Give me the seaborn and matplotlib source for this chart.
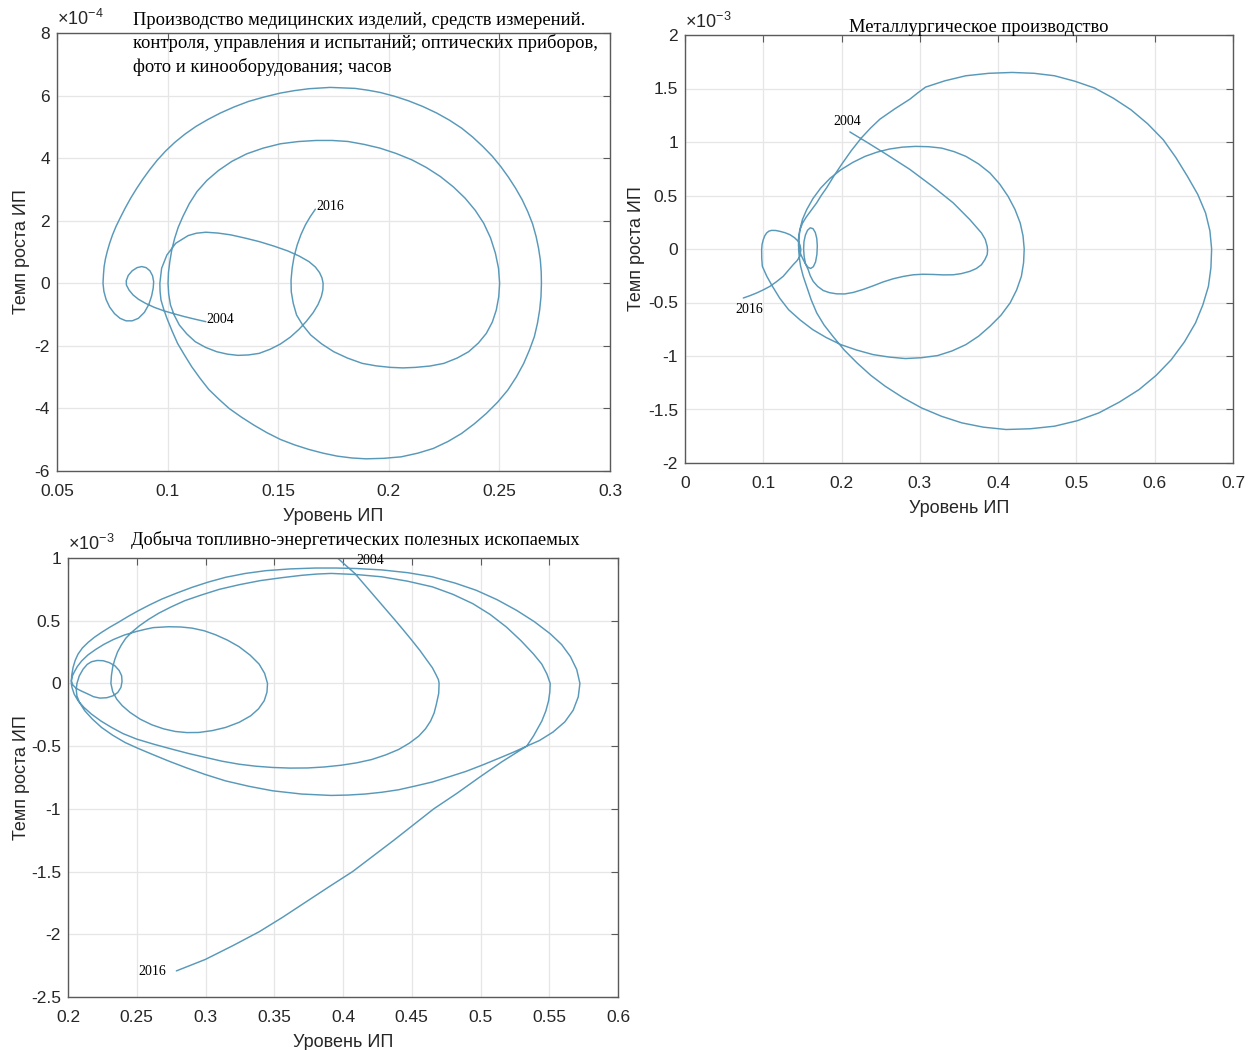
import matplotlib
matplotlib.use("Agg")
import matplotlib.pyplot as plt
import numpy as np
import pandas as pd
import seaborn as sns

# ---------------- data (in trajectory order) ----------------
# Panel 1: x = Уровень ИП, y = Темп роста ИП in units of 1e-4
med_start_loop = [(0.1173, -1.227), (0.1125, -1.15), (0.1077, -1.067), (0.1029, -0.975), (0.0981, -0.875),
                  (0.0940, -0.77), (0.0900, -0.640), (0.0868, -0.51), (0.0844, -0.373), (0.0826, -0.22),
                  (0.0814, -0.06), (0.0813, 0.08), (0.0822, 0.25), (0.0840, 0.40), (0.0862, 0.50),
                  (0.0883, 0.535), (0.0903, 0.50), (0.0920, 0.40), (0.0932, 0.24), (0.0937, 0.05),
                  (0.0935, -0.15), (0.0928, -0.40), (0.0915, -0.68), (0.0895, -0.93), (0.0868, -1.12),
                  (0.0840, -1.20), (0.0812, -1.20), (0.0785, -1.12), (0.0760, -0.97), (0.0738, -0.76),
                  (0.0722, -0.52), (0.0712, -0.26), (0.0708, 0.0)]
med_outer = [(0.0710, 0.27), (0.0713, 0.533), (0.0719, 0.78), (0.0727, 1.013), (0.0738, 1.28), (0.0751, 1.547),
             (0.0767, 1.82), (0.0785, 2.08), (0.0808, 2.40), (0.0833, 2.72), (0.0860, 3.03), (0.0888, 3.328),
             (0.0919, 3.63), (0.0952, 3.925), (0.0990, 4.22), (0.1032, 4.501), (0.1078, 4.765), (0.1128, 5.013),
             (0.1182, 5.235), (0.1238, 5.44), (0.1300, 5.635), (0.1366, 5.813), (0.1437, 5.955), (0.1510, 6.08),
             (0.1573, 6.158), (0.1639, 6.219), (0.1735, 6.261), (0.1848, 6.229), (0.1905, 6.172), (0.1960, 6.101),
             (0.2025, 5.98), (0.2088, 5.835), (0.2154, 5.65), (0.2217, 5.44), (0.2275, 5.21), (0.2329, 4.96),
             (0.2379, 4.675), (0.2425, 4.373), (0.2468, 4.06), (0.2506, 3.733), (0.2541, 3.39), (0.2573, 3.04),
             (0.2603, 2.67), (0.2628, 2.293), (0.2650, 1.9), (0.2666, 1.493), (0.2677, 1.12), (0.2685, 0.747),
             (0.2689, 0.37), (0.2690, 0.0), (0.2688, -0.43), (0.2682, -0.853), (0.2672, -1.28), (0.2658, -1.707),
             (0.2636, -2.13), (0.2610, -2.56), (0.2577, -2.99), (0.2538, -3.413), (0.2492, -3.8), (0.2441, -4.16),
             (0.2387, -4.49), (0.2329, -4.8), (0.2268, -5.055), (0.2201, -5.28), (0.2131, -5.43), (0.2056, -5.547),
             (0.1977, -5.595), (0.1896, -5.611), (0.1832, -5.583), (0.1767, -5.525), (0.1703, -5.43),
             (0.1639, -5.312), (0.1574, -5.165), (0.1510, -4.992), (0.1449, -4.775), (0.1390, -4.533),
             (0.1333, -4.275), (0.1278, -4.0), (0.1231, -3.70), (0.1186, -3.392), (0.1146, -3.03),
             (0.1109, -2.667), (0.1076, -2.29), (0.1045, -1.92), (0.1020, -1.52), (0.0997, -1.12),
             (0.0982, -0.82), (0.0970, -0.533), (0.0966, -0.26), (0.0965, 0.0)]
med_mid_loop = [(0.0973, 0.48), (0.0997, 0.907), (0.1037, 1.28), (0.1093, 1.525), (0.1130, 1.60), (0.1173, 1.632),
                (0.1228, 1.605), (0.1286, 1.547), (0.1350, 1.445), (0.1414, 1.333), (0.1480, 1.19), (0.1543, 1.035),
                (0.1595, 0.87), (0.1639, 0.693), (0.1668, 0.52), (0.1687, 0.341), (0.1698, 0.17), (0.1703, 0.0),
                (0.1702, -0.21), (0.1695, -0.427), (0.1680, -0.68), (0.1658, -0.939), (0.1628, -1.21),
                (0.1594, -1.472), (0.1555, -1.72), (0.1510, -1.941), (0.1463, -2.11), (0.1414, -2.24),
                (0.1366, -2.29), (0.1318, -2.304), (0.1270, -2.265), (0.1222, -2.187), (0.1172, -2.05),
                (0.1125, -1.867), (0.1087, -1.62), (0.1053, -1.333), (0.1030, -1.02), (0.1013, -0.693),
                (0.1005, -0.35), (0.1002, 0.0)]
med_last_loop = [(0.1004, 0.35), (0.1010, 0.693), (0.1019, 1.07), (0.1032, 1.44), (0.1048, 1.79), (0.1069, 2.133),
                 (0.1098, 2.545), (0.1133, 2.933), (0.1178, 3.29), (0.1230, 3.605), (0.1290, 3.895), (0.1358, 4.139),
                 (0.1432, 4.32), (0.1510, 4.459), (0.1590, 4.53), (0.1671, 4.565), (0.1744, 4.565), (0.1815, 4.533),
                 (0.1888, 4.44), (0.1960, 4.32), (0.2033, 4.15), (0.2104, 3.947), (0.2170, 3.70), (0.2233, 3.413),
                 (0.2292, 3.08), (0.2345, 2.72), (0.2391, 2.33), (0.2429, 1.92), (0.2460, 1.45), (0.2482, 0.96),
                 (0.2496, 0.48), (0.2501, 0.0), (0.2497, -0.43), (0.2486, -0.853), (0.2468, -1.24), (0.2441, -1.6),
                 (0.2405, -1.91), (0.2361, -2.187), (0.2309, -2.39), (0.2249, -2.56), (0.2186, -2.645),
                 (0.2120, -2.688), (0.2064, -2.705), (0.2008, -2.688), (0.1943, -2.64), (0.1880, -2.56),
                 (0.1813, -2.39), (0.1751, -2.187), (0.1696, -1.935), (0.1647, -1.653), (0.1611, -1.34),
                 (0.1583, -1.013), (0.1568, -0.64), (0.1559, -0.267), (0.1558, 0.1), (0.1563, 0.48),
                 (0.1572, 0.86), (0.1586, 1.227), (0.1603, 1.56), (0.1623, 1.867), (0.1645, 2.13), (0.1668, 2.368)]

# Panel 2: y in units of 1e-3
met_kidney = [(0.2106, 1.094), (0.2319, 1.0), (0.2574, 0.884), (0.2872, 0.744), (0.3170, 0.581), (0.3426, 0.431),
              (0.3638, 0.275), (0.3787, 0.15), (0.3835, 0.09), (0.3860, 0.025), (0.3865, -0.015), (0.3860, -0.053),
              (0.3830, -0.10), (0.3787, -0.147), (0.3720, -0.183), (0.3638, -0.209), (0.3530, -0.230),
              (0.3426, -0.241), (0.3300, -0.242), (0.3170, -0.238), (0.3040, -0.236), (0.2915, -0.241),
              (0.2790, -0.256), (0.2660, -0.278), (0.2530, -0.308), (0.2404, -0.344), (0.2275, -0.378),
              (0.2149, -0.406), (0.2040, -0.420), (0.1936, -0.419), (0.1845, -0.408), (0.1766, -0.388),
              (0.1695, -0.35), (0.1638, -0.303), (0.1600, -0.25), (0.1574, -0.194)]
met_small = [(0.1540, -0.14), (0.1522, -0.07), (0.1515, 0.0), (0.1520, 0.07), (0.1538, 0.13), (0.1565, 0.175),
             (0.1600, 0.198), (0.1635, 0.19), (0.1664, 0.155), (0.1683, 0.10), (0.1690, 0.03), (0.1685, -0.05),
             (0.1668, -0.12), (0.1640, -0.165), (0.1605, -0.182), (0.1570, -0.17), (0.1535, -0.135),
             (0.1500, -0.085), (0.1468, -0.03), (0.1450, 0.03), (0.1450, 0.10)]
met_outer = [(0.1465, 0.17), (0.1500, 0.24), (0.1550, 0.30), (0.1610, 0.36), (0.1681, 0.43), (0.1740, 0.50),
             (0.1809, 0.572), (0.1900, 0.68), (0.2000, 0.79), (0.2125, 0.92), (0.2255, 1.04), (0.2370, 1.13),
             (0.2489, 1.213), (0.2680, 1.31), (0.2872, 1.40), (0.2975, 1.46), (0.3073, 1.513), (0.3320, 1.572),
             (0.3587, 1.619), (0.3880, 1.642), (0.4179, 1.650), (0.4460, 1.642), (0.4720, 1.619), (0.4980, 1.568),
             (0.5234, 1.504), (0.5470, 1.41), (0.5697, 1.301), (0.5910, 1.17), (0.6109, 1.021), (0.6270, 0.855),
             (0.6418, 0.679), (0.6550, 0.51), (0.6650, 0.336), (0.6705, 0.17), (0.6727, 0.0), (0.6718, -0.175),
             (0.6686, -0.349), (0.6615, -0.522), (0.6521, -0.691), (0.6380, -0.868), (0.6212, -1.034),
             (0.6020, -1.18), (0.5800, -1.314), (0.5550, -1.43), (0.5286, -1.532), (0.5010, -1.605),
             (0.4720, -1.656), (0.4410, -1.68), (0.4102, -1.687), (0.3810, -1.665), (0.3536, -1.625),
             (0.3275, -1.563), (0.3021, -1.485), (0.2785, -1.39), (0.2558, -1.283), (0.2372, -1.18),
             (0.2198, -1.065), (0.2035, -0.945), (0.1889, -0.816), (0.1776, -0.71), (0.1683, -0.598),
             (0.1612, -0.475), (0.1554, -0.349), (0.1510, -0.255), (0.1477, -0.162), (0.1460, -0.08),
             (0.1451, 0.0)]
met_middle = [(0.1455, 0.09), (0.1467, 0.181), (0.1500, 0.275), (0.1554, 0.367), (0.1635, 0.472), (0.1734, 0.570),
              (0.1855, 0.662), (0.1992, 0.741), (0.2145, 0.81), (0.2301, 0.866), (0.2452, 0.905), (0.2609, 0.934),
              (0.2777, 0.952), (0.2944, 0.959), (0.3113, 0.956), (0.3278, 0.943), (0.3437, 0.91), (0.3587, 0.866),
              (0.3750, 0.795), (0.3896, 0.710), (0.4020, 0.607), (0.4127, 0.492), (0.4215, 0.37), (0.4282, 0.243),
              (0.4318, 0.122), (0.4333, 0.0), (0.4325, -0.128), (0.4297, -0.255), (0.4236, -0.383),
              (0.4153, -0.504), (0.4035, -0.62), (0.3896, -0.722), (0.3750, -0.815), (0.3587, -0.894),
              (0.3410, -0.953), (0.3227, -0.996), (0.3020, -1.016), (0.2815, -1.024), (0.2608, -1.01),
              (0.2403, -0.987), (0.2195, -0.945), (0.1992, -0.894), (0.1805, -0.828), (0.1631, -0.753),
              (0.1470, -0.663), (0.1323, -0.567), (0.1210, -0.46), (0.1117, -0.349), (0.1045, -0.255),
              (0.0988, -0.162), (0.0980, -0.085)]
met_end = [(0.0979, -0.006), (0.0985, 0.045), (0.1000, 0.087), (0.1018, 0.122), (0.1043, 0.150), (0.1072, 0.167),
           (0.1106, 0.174), (0.1160, 0.173), (0.1213, 0.165), (0.1278, 0.152), (0.1340, 0.134), (0.1398, 0.106),
           (0.1447, 0.072), (0.1470, 0.035), (0.1480, -0.006), (0.1468, -0.069), (0.1430, -0.11), (0.1383, -0.146),
           (0.1320, -0.20), (0.1255, -0.255), (0.1170, -0.305), (0.1085, -0.349), (0.1000, -0.382),
           (0.0915, -0.411), (0.0830, -0.436), (0.0745, -0.458)]

# Panel 3: y in units of 1e-3
fuel_first = [(0.3963, 0.997), (0.4025, 0.937), (0.4086, 0.877), (0.4160, 0.783), (0.4233, 0.690), (0.4307, 0.597),
              (0.4380, 0.503), (0.4442, 0.422), (0.4502, 0.342), (0.4560, 0.262), (0.4613, 0.182), (0.4650, 0.125),
              (0.4674, 0.075), (0.4694, 0.03), (0.4699, 0.0), (0.4696, -0.08), (0.4679, -0.166), (0.4663, -0.235),
              (0.4637, -0.300), (0.4600, -0.362), (0.4551, -0.420), (0.4483, -0.476), (0.4404, -0.527),
              (0.4310, -0.570), (0.4208, -0.607), (0.4100, -0.633), (0.3988, -0.652), (0.3865, -0.666),
              (0.3743, -0.674), (0.3615, -0.675), (0.3488, -0.670), (0.3366, -0.660), (0.3244, -0.644),
              (0.3120, -0.620), (0.3000, -0.590), (0.2878, -0.559), (0.2756, -0.524), (0.2625, -0.485),
              (0.2500, -0.444), (0.2400, -0.400), (0.2317, -0.351), (0.2240, -0.300), (0.2171, -0.245),
              (0.2115, -0.19), (0.2073, -0.138), (0.2045, -0.085), (0.2029, -0.032)]
fuel_outer = [(0.2024, 0.0), (0.2027, 0.065), (0.2037, 0.128), (0.2052, 0.183), (0.2073, 0.234), (0.2105, 0.283),
              (0.2146, 0.327), (0.2192, 0.368), (0.2244, 0.407), (0.2302, 0.447), (0.2366, 0.487), (0.2437, 0.534),
              (0.2512, 0.58), (0.2595, 0.627), (0.2683, 0.673), (0.2790, 0.72), (0.2902, 0.766), (0.3020, 0.808),
              (0.3146, 0.846), (0.3290, 0.877), (0.3439, 0.899), (0.3615, 0.913), (0.3800, 0.920), (0.3950, 0.920),
              (0.4100, 0.916), (0.4282, 0.905), (0.4470, 0.883), (0.4650, 0.850), (0.4815, 0.80), (0.4968, 0.743),
              (0.5120, 0.668), (0.5262, 0.583), (0.5392, 0.492), (0.5507, 0.396), (0.5590, 0.31), (0.5654, 0.214),
              (0.5700, 0.11), (0.5723, 0.0), (0.5711, -0.107), (0.5674, -0.214), (0.5613, -0.307),
              (0.5527, -0.388), (0.5429, -0.455), (0.5336, -0.500), (0.5240, -0.548), (0.5140, -0.594),
              (0.5020, -0.648), (0.4895, -0.701), (0.4770, -0.745), (0.4650, -0.786), (0.4525, -0.818),
              (0.4404, -0.848), (0.4280, -0.868), (0.4159, -0.882), (0.4035, -0.890), (0.3914, -0.893),
              (0.3700, -0.882), (0.3488, -0.856), (0.3315, -0.82), (0.3146, -0.777), (0.2998, -0.726),
              (0.2854, -0.670), (0.2730, -0.618), (0.2610, -0.564), (0.2510, -0.518), (0.2415, -0.471),
              (0.2325, -0.413), (0.2244, -0.351), (0.2178, -0.285), (0.2122, -0.218), (0.2085, -0.155),
              (0.2065, -0.100), (0.2060, -0.05)]
fuel_small = [(0.2065, 0.0), (0.2082, 0.06), (0.2110, 0.114), (0.2140, 0.152), (0.2171, 0.173), (0.2212, 0.183),
              (0.2256, 0.181), (0.2300, 0.166), (0.2341, 0.141), (0.2372, 0.103), (0.2390, 0.061), (0.2393, 0.015),
              (0.2385, -0.032), (0.2362, -0.072), (0.2329, -0.098), (0.2282, -0.114), (0.2232, -0.117),
              (0.2186, -0.106), (0.2146, -0.085), (0.2100, -0.062), (0.2060, -0.04), (0.2035, -0.012),
              (0.2024, 0.02)]
fuel_inner = [(0.2030, 0.055), (0.2045, 0.090), (0.2068, 0.135), (0.2100, 0.180), (0.2145, 0.227), (0.2200, 0.270),
              (0.2262, 0.312), (0.2330, 0.350), (0.2410, 0.386), (0.2500, 0.415), (0.2560, 0.431), (0.2620, 0.445),
              (0.2732, 0.452), (0.2820, 0.450), (0.2902, 0.441), (0.2990, 0.42), (0.3073, 0.388), (0.3160, 0.345),
              (0.3244, 0.293), (0.3325, 0.225), (0.3390, 0.154), (0.3430, 0.08), (0.3451, 0.0), (0.3447, -0.07),
              (0.3427, -0.138), (0.3386, -0.202), (0.3329, -0.258), (0.3245, -0.31), (0.3146, -0.351),
              (0.3050, -0.376), (0.2951, -0.391), (0.2865, -0.392), (0.2780, -0.383), (0.2695, -0.362),
              (0.2610, -0.330), (0.2525, -0.285), (0.2451, -0.231), (0.2395, -0.178), (0.2354, -0.125),
              (0.2325, -0.065), (0.2312, 0.0)]
fuel_last = [(0.2316, 0.065), (0.2325, 0.130), (0.2340, 0.19), (0.2360, 0.250), (0.2387, 0.305), (0.2420, 0.360),
             (0.2465, 0.41), (0.2520, 0.460), (0.2585, 0.51), (0.2660, 0.560), (0.2750, 0.61), (0.2850, 0.660),
             (0.2970, 0.705), (0.3100, 0.750), (0.3245, 0.787), (0.3400, 0.820), (0.3555, 0.843), (0.3700, 0.862),
             (0.3810, 0.872), (0.3914, 0.877), (0.4100, 0.868), (0.4282, 0.850), (0.4470, 0.815), (0.4650, 0.770),
             (0.4800, 0.71), (0.4944, 0.636), (0.5070, 0.55), (0.5189, 0.449), (0.5295, 0.340), (0.5385, 0.235),
             (0.5445, 0.155), (0.5483, 0.075), (0.5507, 0.0)]
fuel_tail = [(0.5504, -0.07), (0.5495, -0.139), (0.5475, -0.22), (0.5446, -0.300), (0.5385, -0.420),
             (0.5336, -0.500), (0.5155, -0.625), (0.4990, -0.750), (0.4830, -0.875), (0.4660, -1.000),
             (0.4515, -1.125), (0.4370, -1.250), (0.4220, -1.375), (0.4070, -1.500), (0.3900, -1.620),
             (0.3720, -1.750), (0.3560, -1.865), (0.3390, -1.980), (0.3200, -2.090), (0.3000, -2.200),
             (0.2788, -2.292)]

med_path = med_start_loop + med_outer + med_mid_loop + med_last_loop
met_path = met_kidney + met_small + met_outer + met_middle + met_end
fuel_path = fuel_first + fuel_outer + fuel_small + fuel_inner + fuel_last + fuel_tail

titles = ["Производство медицинских изделий, средств измерений.\n"
          "контроля, управления и испытаний; оптических приборов,\n"
          "фото и кинооборудования; часов",
          "Металлургическое производство",
          "Добыча топливно-энергетических полезных ископаемых"]
x_label = "Уровень ИП"
y_label = "Темп роста ИП"

med_xticks = [0.05, 0.1, 0.15, 0.2, 0.25, 0.3]
med_xticklabels = ["0.05", "0.1", "0.15", "0.2", "0.25", "0.3"]
med_yticks = [-6, -4, -2, 0, 2, 4, 6, 8]
med_yticklabels = ["-6", "-4", "-2", "0", "2", "4", "6", "8"]

met_xticks = [0, 0.1, 0.2, 0.3, 0.4, 0.5, 0.6, 0.7]
met_xticklabels = ["0", "0.1", "0.2", "0.3", "0.4", "0.5", "0.6", "0.7"]
met_yticks = [-2, -1.5, -1, -0.5, 0, 0.5, 1, 1.5, 2]
met_yticklabels = ["-2", "-1.5", "-1", "-0.5", "0", "0.5", "1", "1.5", "2"]

fuel_xticks = [0.2, 0.25, 0.3, 0.35, 0.4, 0.45, 0.5, 0.55, 0.6]
fuel_xticklabels = ["0.2", "0.25", "0.3", "0.35", "0.4", "0.45", "0.5", "0.55", "0.6"]
fuel_yticks = [-2.5, -2, -1.5, -1, -0.5, 0, 0.5, 1]
fuel_yticklabels = ["-2.5", "-2", "-1.5", "-1", "-0.5", "0", "0.5", "1"]

# ---------------- style ----------------
sns.set_theme(style="white")
plt.rcParams["font.family"] = ["Liberation Sans", "DejaVu Sans"]
plt.rcParams["mathtext.fontset"] = "custom"
plt.rcParams["mathtext.rm"] = "Liberation Sans"
plt.rcParams["mathtext.it"] = "Liberation Sans"

LINE = "#5899ba"
GRID = "#e6e6e6"
FRAME = "#5a5a5a"
TXT = "#262626"
SERIF = ["Liberation Serif", "DejaVu Serif"]

fig = plt.figure(figsize=(12.5, 10.5), dpi=100)
W, H = 1250.0, 1050.0


def make_ax(l, t, r, b):
    return fig.add_axes([l / W, 1 - b / H, (r - l) / W, (b - t) / H])


ax1 = make_ax(57, 33, 610, 471)
ax2 = make_ax(685, 35, 1233, 463)
ax3 = make_ax(68, 558, 618, 997)


def draw(ax, path, xt, xtl, yt, ytl, expo, ylab_x):
    df = pd.DataFrame(path, columns=["x", "y"])
    sns.lineplot(data=df, x="x", y="y", sort=False, estimator=None, ax=ax,
                 color=LINE, linewidth=1.05)
    ax.set_xlim(xt[0], xt[-1])
    ax.set_ylim(yt[0], yt[-1])
    ax.set_xticks(xt)
    ax.set_xticklabels(xtl)
    ax.set_yticks(yt)
    ax.set_yticklabels(ytl)
    ax.grid(True, color=GRID, linewidth=0.9)
    ax.set_axisbelow(True)
    for s in ax.spines.values():
        s.set_color(FRAME)
        s.set_linewidth(1.0)
    ax.tick_params(direction="in", length=5, width=0.8, color=FRAME,
                   top=True, right=True, labelsize=12.5, labelcolor=TXT, pad=5)
    ax.tick_params(axis="x", pad=9)
    ax.set_xlabel(x_label, fontsize=13, color=TXT, labelpad=7)
    ax.set_ylabel(y_label, fontsize=13, color=TXT)
    ax.yaxis.set_label_coords(ylab_x, 0.5)
    ax.text(0.0, 1.008, r"$\times10^{%d}$" % expo, transform=ax.transAxes,
            ha="left", va="bottom", fontsize=13, color=TXT)


draw(ax1, med_path, med_xticks, med_xticklabels, med_yticks, med_yticklabels, -4, -0.049)
draw(ax2, met_path, met_xticks, met_xticklabels, met_yticks, met_yticklabels, -3, -0.073)
draw(ax3, fuel_path, fuel_xticks, fuel_xticklabels, fuel_yticks, fuel_yticklabels, -3, -0.069)

# titles
fig.text(133 / W, 1 - 12 / H, titles[0], ha="left", va="top", fontsize=13.3,
         family=SERIF, color="black", linespacing=1.38)
fig.text(979 / W, 1 - 28 / H, titles[1], ha="center", va="center", fontsize=13.3,
         family=SERIF, color="black")
fig.text(355 / W, 1 - 540 / H, titles[2], ha="center", va="center", fontsize=13.2,
         family=SERIF, color="black")

# year labels
yr = dict(fontsize=10, family=SERIF, color="black", va="center", ha="left")
ax1.text(0.1175, -1.17, "2004", **yr)
ax1.text(0.1672, 2.45, "2016", **yr)
ax2.text(0.190, 1.194, "2004", **yr)
ax2.text(0.0638, -0.5625, "2016", **yr)
ax3.text(0.4097, 0.978, "2004", **yr)
ax3.text(0.2509, -2.30, "2016", **yr)

fig.savefig("out.png", dpi=100, facecolor="white")
